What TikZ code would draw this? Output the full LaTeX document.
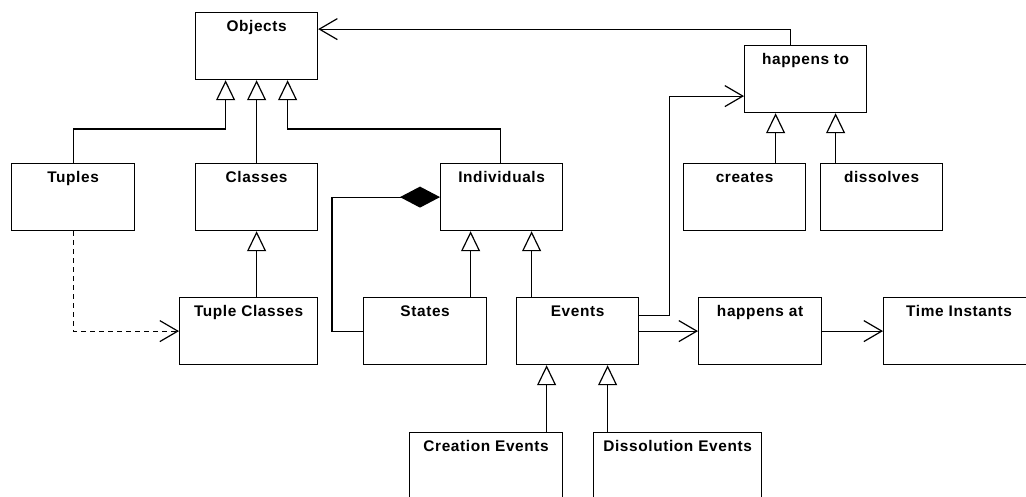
\documentclass[tikz,border=0pt]{standalone}
\usepackage{fontspec}
\usepackage{tikz}
\usetikzlibrary{arrows.meta}
\newfontfamily\umlfont{Liberation Sans}[LetterSpace=4]

\tikzset{
  cls/.style={shape=rectangle, draw=black, line width=1.2pt, anchor=north west,
    inner xsep=0pt, inner ysep=0pt, text height=19pt, text depth=48pt,
    font=\umlfont\fontsize{15.4}{18}\selectfont\bfseries},
  gen/.style={line width=1.2pt, -{Triangle[open, width=19pt, length=20pt, line width=1.2pt]}},
  nav/.style={line width=1.2pt, -{Straight Barb[width=21pt, length=18pt, line width=1.2pt]}},
  comp/.style={line width=1.2pt, {Diamond[width=21pt, length=40pt]}-}
}

\begin{document}
\begin{tikzpicture}[x=1pt, y=-1pt]
    \useasboundingbox (0,0) rectangle (1026,496);
    \clip (0,0) rectangle (1026,496);
	\node[cls, minimum width=122pt] (objects)      at (195, 12)  {Objects};
	\node[cls, minimum width=123pt] (tuples)       at (11, 163)  {Tuples};
	\node[cls, minimum width=122pt] (classes)      at (195, 163) {Classes};
	\node[cls, minimum width=122pt] (individuals)  at (440, 163) {Individuals};
	\node[cls, minimum width=122pt] (happensto)    at (744, 45)  {happens to};
	\node[cls, minimum width=122pt] (creates)      at (683, 163) {creates};
	\node[cls, minimum width=122pt] (dissolves)    at (820, 163) {dissolves};
	\node[cls, minimum width=138pt] (tupleclasses) at (179, 297) {Tuple Classes};
	\node[cls, minimum width=123pt] (states)       at (363, 297) {States};
	\node[cls, minimum width=122pt] (events)       at (516, 297) {Events};
	\node[cls, minimum width=123pt] (happensat)    at (698, 297) {happens at};
	\node[cls, minimum width=151pt] (timeinstants) at (883, 297) {Time Instants};
	\node[cls, minimum width=153pt] (creation)     at (409, 432) {Creation Events};
	\node[cls, minimum width=168pt] (dissolution)  at (593, 432) {Dissolution Events};

    \coordinate (obj1) at ([xshift=-31pt]objects.south);
    \coordinate (obj3) at ([xshift=31pt]objects.south);
    \coordinate (hto1) at ([xshift=-30pt]happensto.south);
    \coordinate (hto2) at ([xshift=30pt]happensto.south);
    \coordinate (ind1) at ([xshift=-31pt]individuals.south);
    \coordinate (ind2) at ([xshift=30pt]individuals.south);
    \coordinate (evt1) at ([xshift=-31pt]events.south);
    \coordinate (evt2) at ([xshift=30pt]events.south);

    \draw[gen] (tuples.north) -- ++(0,-34) -| (obj1);
    \draw[gen] (classes.north) -- (objects.south);
    \draw[gen] ([xshift=-1pt]individuals.north) -- ++(0,-34) -| (obj3);
    \draw[gen] (tupleclasses.north -| classes.south) -- (classes.south);
    \draw[gen] (creates.north -| hto1) -- (hto1);
    \draw[gen] (dissolves.north -| hto2) -- (hto2);
    \draw[gen] (states.north -| ind1) -- (ind1);
    \draw[gen] (events.north -| ind2) -- (ind2);
    \draw[gen] (creation.north -| evt1) -- (evt1);
    \draw[gen] (dissolution.north -| evt2) -- (evt2);

    \draw[nav] ([xshift=-15pt]happensto.north) |- ([yshift=17pt]objects.east);
    \draw[nav] ([yshift=16pt]events.east) -- ++(30,0) |- ([yshift=-17pt]happensto.west);
    \draw[nav] (events.east) -- (happensat.west);
    \draw[nav] (happensat.east) -- (timeinstants.west);
    \draw[nav, dash pattern=on 5pt off 4pt] (tuples.south) |- (tupleclasses.west);

    \draw[comp] (individuals.west) -- ++(-108,0) |- (states.west);
\end{tikzpicture}
\end{document}
